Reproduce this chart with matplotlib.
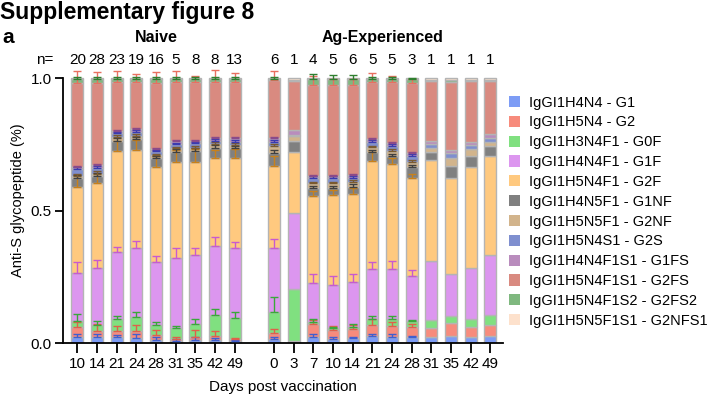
import numpy as np
import matplotlib
matplotlib.use('Agg')
import matplotlib.pyplot as plt
from matplotlib.patches import Patch

plt.rcParams['font.family'] = ['Liberation Sans', 'DejaVu Sans']

glycans = ['IgGI1H4N4 - G1', 'IgGI1H5N4 - G2', 'IgGI1H3N4F1 - G0F',
           'IgGI1H4N4F1 - G1F', 'IgGI1H5N4F1 - G2F', 'IgGI1H4N5F1 - G1NF',
           'IgGI1H5N5F1 - G2NF', 'IgGI1H5N4S1 - G2S', 'IgGI1H4N4F1S1 - G1FS',
           'IgGI1H5N4F1S1 - G2FS', 'IgGI1H5N4F1S2 - G2FS2', 'IgGI1H5N5F1S1 - G2NFS1']
colors = ['#7d9cf5', '#f78b7c', '#80e080', '#dc96ef', '#ffc97f', '#808080',
          '#d2b48c', '#7f8fcf', '#b98cbd', '#d98a80', '#7fb87f', '#fde1cc']
err_colors = ['#3f5fd0', '#e0604a', '#3aa83a', '#c85ad0', '#c8801a', '#404040',
              '#7a5a30', '#3a3ab0', '#8a4a8a', '#e87060', '#2f7f2f', '#e0b090']

naive_days = [10, 14, 21, 24, 28, 31, 35, 42, 49]
naive_n = [20, 28, 23, 19, 16, 5, 8, 8, 13]
ag_days = [0, 3, 7, 10, 14, 21, 24, 28, 31, 35, 42, 49]
ag_n = [6, 1, 4, 5, 6, 5, 5, 3, 1, 1, 1, 1]

# mean fractions, naive group
G1_naive = [.026, .023, .023, .022, .013, .009, .013, .013, .008]
G2_naive = [.035, .025, .023, .025, .019, .007, .013, .015, .008]
G0F_naive = [.025, .023, .045, .053, .036, .041, .047, .078, .079]
G1F_naive = [.181, .212, .252, .258, .238, .265, .260, .261, .263]
G2F_naive = [.324, .320, .382, .372, .360, .362, .351, .330, .339]
G1NF_naive = [.031, .028, .039, .039, .031, .039, .041, .040, .038]
G2NF_naive = [.010, .009, .015, .013, .012, .012, .012, .015, .013]
G2S_naive = [.024, .020, .013, .015, .015, .016, .017, .012, .012]
G1FS_naive = [.010, .013, .008, .010, .008, .010, .010, .009, .015]
G2FS_naive = [.316, .309, .186, .178, .251, .224, .222, .212, .210]
G2FS2_naive = [.013, .013, .010, .010, .012, .010, .010, .010, .010]
G2NFS1_naive = [.005, .005, .004, .005, .005, .005, .004, .005, .005]

# mean fractions, Ag-experienced group
G1_ag = [.016, .006, .026, .017, .019, .028, .026, .023, .026, .028, .023, .028]
G2_ag = [.022, .005, .046, .034, .034, .043, .041, .040, .034, .048, .038, .040]
G0F_ag = [.082, .193, .009, .007, .010, .022, .024, .021, .029, .029, .031, .038]
G1F_ag = [.238, .286, .148, .162, .170, .186, .191, .169, .223, .156, .191, .227]
G2F_ag = [.311, .231, .327, .339, .330, .408, .393, .371, .379, .363, .383, .373]
G1NF_ag = [.050, .043, .028, .025, .028, .035, .031, .040, .029, .045, .041, .038]
G2NF_ag = [.025, .019, .019, .019, .018, .017, .019, .021, .015, .028, .025, .016]
G2S_ag = [.016, .004, .019, .019, .015, .021, .019, .021, .016, .022, .016, .015]
G1FS_ag = [.013, .017, .009, .009, .011, .009, .010, .010, .012, .010, .010, .013]
G2FS_ag = [.219, .185, .341, .344, .340, .217, .232, .266, .227, .256, .232, .202]
G2FS2_ag = [.005, .004, .023, .020, .020, .010, .010, .013, .002, .008, .003, .003]
G2NFS1_ag = [.003, .007, .005, .005, .005, .004, .004, .005, .008, .007, .007, .007]

# SD (upper error bar), naive
G1_naive_sd = [.010, .012, .009, .012, .010, .006, .010, .008, .004]
G2_naive_sd = [.019, .025, .018, .023, .019, .008, .025, .019, .004]
G0F_naive_sd = [.024, .015, .014, .020, .014, .009, .021, .023, .023]
G1F_naive_sd = [.041, .031, .021, .029, .024, .036, .025, .035, .025]
G2F_naive_sd = [.044, .040, .039, .036, .040, .045, .050, .031, .035]
G1NF_naive_sd = [.012, .010, .010, .009, .009, .009, .010, .010, .009]
G2NF_naive_sd = [.008, .008, .006, .006, .006, .006, .006, .006, .006]
G2S_naive_sd = [.010, .008, .006, .006, .006, .006, .006, .006, .006]
G1FS_naive_sd = [.004, .004, .004, .004, .004, .004, .004, .004, .004]
G2FS_naive_sd = [.045, .041, .039, .030, .041, .040, .023, .044, .034]
G2FS2_naive_sd = [.008, .008, .007, .008, .008, .008, .006, .008, .007]
G2NFS1_naive_sd = [0, 0, 0, 0, 0, 0, 0, 0, 0]

# SD (upper error bar), Ag-experienced (n=1 -> none)
G1_ag_sd = [.008, 0, .008, .006, .006, .008, .008, .005, 0, 0, 0, 0]
G2_ag_sd = [.018, 0, .016, .015, .016, .020, .013, .009, 0, 0, 0, 0]
G0F_ag_sd = [.056, 0, .010, .005, .009, .011, .013, .005, 0, 0, 0, 0]
G1F_ag_sd = [.035, 0, .033, .034, .028, .029, .030, .024, 0, 0, 0, 0]
G2F_ag_sd = [.038, 0, .020, .019, .021, .035, .025, .016, 0, 0, 0, 0]
G1NF_ag_sd = [.010, 0, .008, .008, .008, .008, .008, .010, 0, 0, 0, 0]
G2NF_ag_sd = [.006, 0, .006, .006, .006, .006, .006, .006, 0, 0, 0, 0]
G2S_ag_sd = [.008, 0, .008, .008, .008, .006, .006, .006, 0, 0, 0, 0]
G1FS_ag_sd = [.004, 0, .004, .004, .004, .004, .004, .004, 0, 0, 0, 0]
G2FS_ag_sd = [.034, 0, .034, .021, .021, .031, .021, .013, 0, 0, 0, 0]
G2FS2_ag_sd = [.005, 0, .020, .018, .018, .006, .006, .005, 0, 0, 0, 0]
G2NFS1_ag_sd = [0, 0, 0, 0, 0, 0, 0, 0, 0, 0, 0, 0]

naive_vals = [G1_naive, G2_naive, G0F_naive, G1F_naive, G2F_naive, G1NF_naive,
              G2NF_naive, G2S_naive, G1FS_naive, G2FS_naive, G2FS2_naive, G2NFS1_naive]
ag_vals = [G1_ag, G2_ag, G0F_ag, G1F_ag, G2F_ag, G1NF_ag,
           G2NF_ag, G2S_ag, G1FS_ag, G2FS_ag, G2FS2_ag, G2NFS1_ag]
naive_sds = [G1_naive_sd, G2_naive_sd, G0F_naive_sd, G1F_naive_sd, G2F_naive_sd,
             G1NF_naive_sd, G2NF_naive_sd, G2S_naive_sd, G1FS_naive_sd,
             G2FS_naive_sd, G2FS2_naive_sd, G2NFS1_naive_sd]
ag_sds = [G1_ag_sd, G2_ag_sd, G0F_ag_sd, G1F_ag_sd, G2F_ag_sd, G1NF_ag_sd,
          G2NF_ag_sd, G2S_ag_sd, G1FS_ag_sd, G2FS_ag_sd, G2FS2_ag_sd, G2NFS1_ag_sd]

x_naive = np.arange(len(naive_days))
x_ag = np.arange(len(ag_days)) + len(naive_days) + 1
x = np.concatenate([x_naive, x_ag])
days = naive_days + ag_days

fig = plt.figure(figsize=(7.11, 4.04), dpi=100)
ax = fig.add_axes([0.0886, 0.1498, 0.619, 0.7097])

bottom = np.zeros(len(x))
tops = []
for i in range(len(glycans)):
    v = np.array(naive_vals[i] + ag_vals[i])
    ax.bar(x, v, bottom=bottom, width=0.62, color=colors[i],
           edgecolor='#b4b4b4', linewidth=1.0, zorder=2)
    bottom = bottom + v
    tops.append(bottom.copy())

for i in range(len(glycans)):
    sd = np.array(naive_sds[i] + ag_sds[i])
    m = sd > 0
    if m.any():
        ax.errorbar(x[m], tops[i][m], yerr=[np.zeros(m.sum()), sd[m]], fmt='none',
                    ecolor=err_colors[i], elinewidth=1.0, capsize=3, capthick=1.0,
                    zorder=3)

ax.set_xlim(-0.73, 21.65)
ax.set_ylim(0, 1.08)
ax.set_yticks([0, 0.5, 1.0])
ax.set_yticklabels(['0.0', '0.5', '1.0'])
ax.set_xticks(x)
ax.set_xticklabels([str(d) for d in days])
ax.spines['top'].set_visible(False)
ax.spines['right'].set_visible(False)
ax.spines['left'].set_bounds(0, 1)
for s in ['left', 'bottom']:
    ax.spines[s].set_linewidth(1.3)
ax.tick_params(axis='x', length=7, width=1.3, labelsize=11, pad=3)
ax.tick_params(axis='y', length=6, width=1.3, labelsize=11, pad=2)
ax.set_ylabel('Anti-S glycopeptide (%)', fontsize=10.5, labelpad=4)
ax.set_xlabel('Days post vaccination', fontsize=11, labelpad=6)

# n labels
for xi, n in zip(x, naive_n + ag_n):
    ax.text(xi, 1.068, str(n), ha='center', va='center', fontsize=11, clip_on=False)
ax.text(-1.2, 1.068, 'n=', ha='right', va='center', fontsize=11, clip_on=False)
ax.text(x_naive.mean(), 1.154, 'Naive', ha='center', va='center', fontsize=11.5,
        fontweight='bold', clip_on=False)
ax.text(x_ag.mean(), 1.154, 'Ag-Experienced', ha='center', va='center', fontsize=11.5,
        fontweight='bold', clip_on=False)

fig.text(0.0, 0.968, 'Supplementary figure 8', ha='left', va='center', fontsize=16.5,
         fontweight='bold')
fig.text(0.003, 0.906, 'a', ha='left', va='center', fontsize=15, fontweight='bold')

handles = [Patch(facecolor=c, edgecolor='none') for c in colors]
fig.legend(handles, glycans, loc='upper left', bbox_to_anchor=(0.707, 0.778),
           frameon=False, fontsize=10.5, handlelength=0.8, handleheight=0.8,
           handletextpad=0.6, labelspacing=0.40, borderaxespad=0)

fig.savefig('out.png', dpi=100)
